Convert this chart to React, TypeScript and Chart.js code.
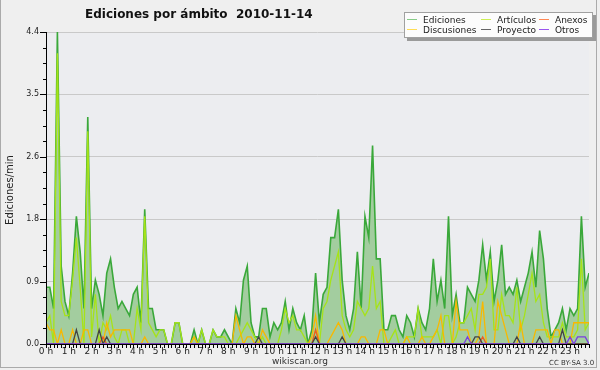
import { useEffect, useRef } from 'react';
import { Chart, registerables } from 'chart.js';

Chart.register(...registerables);

// ---- data: edits per minute, one value per 10-minute slot (0 h .. 23 h 50) ----
const ediciones = [
  0.8, 0.8, 0.5, 4.4, 1.1, 0.6, 0.4, 1.0, 1.8, 1.3,
  0.5, 3.2, 0.5, 0.9, 0.7, 0.4, 1.0, 1.2, 0.8, 0.5,
  0.6, 0.5, 0.4, 0.7, 0.8, 0.3, 1.9, 0.5, 0.5, 0.2,
  0.2, 0.2, 0, 0, 0.3, 0.3, 0, 0, 0, 0.2,
  0, 0.2, 0, 0, 0.2, 0.1, 0.1, 0.2, 0.1, 0,
  0.5, 0.3, 0.9, 1.1, 0.3, 0.1, 0.1, 0.5, 0.5, 0.1,
  0.3, 0.2, 0.3, 0.6, 0.2, 0.5, 0.3, 0.2, 0.4, 0,
  0.2, 1.0, 0.3, 0.7, 0.8, 1.5, 1.5, 1.9, 0.9, 0.4,
  0.2, 0.5, 1.3, 0.5, 1.8, 1.5, 2.8, 1.2, 1.2, 0.2,
  0.2, 0.4, 0.4, 0.2, 0.1, 0.4, 0.3, 0.1, 0.5, 0.3,
  0.2, 0.5, 1.2, 0.6, 0.9, 0.5, 1.8, 0.4, 0.7, 0.3,
  0.3, 0.8, 0.7, 0.6, 0.9, 1.4, 0.9, 1.3, 0.6, 0.9,
  1.4, 0.7, 0.8, 0.7, 0.9, 0.6, 0.8, 1.0, 1.3, 0.8,
  1.6, 1.2, 0.5, 0.1, 0.2, 0.3, 0.5, 0.2, 0.5, 0.4,
  0.5, 1.8, 0.8, 1.0,
];

const articulos = [
  0.3, 0.4, 0, 4.1, 0.6, 0.4, 0.4, 0.9, 1.5, 0.8,
  0, 3.0, 0.1, 0.7, 0, 0.3, 0.2, 0.4, 0.1, 0,
  0.2, 0.2, 0, 0, 0.5, 0.2, 1.8, 0.3, 0.2, 0.1,
  0.2, 0.2, 0, 0, 0.3, 0.3, 0, 0, 0, 0.1,
  0, 0.2, 0, 0, 0.2, 0.1, 0.1, 0.1, 0, 0,
  0, 0.1, 0.2, 0.3, 0.2, 0.1, 0, 0.1, 0, 0,
  0, 0, 0.2, 0.5, 0.3, 0.4, 0.2, 0.2, 0.1, 0,
  0, 0.2, 0, 0.5, 0.6, 0.9, 1.1, 1.3, 0.4, 0.2,
  0.1, 0.2, 0.6, 0.5, 0.4, 0.5, 1.1, 0.5, 0.6, 0,
  0, 0.1, 0.2, 0, 0, 0.1, 0.1, 0.1, 0.5, 0.1,
  0.1, 0.1, 0.1, 0.2, 0, 0.4, 0.4, 0, 0.1, 0.3,
  0.3, 0.4, 0.5, 0.2, 0.7, 0.7, 0.8, 1.2, 0.2, 0.2,
  0.7, 0.4, 0.4, 0.3, 0.8, 0.2, 0.4, 0.7, 1.0, 0.6,
  0.7, 0.3, 0.1, 0.1, 0.1, 0.1, 0.3, 0.1, 0.1, 0.1,
  0.2, 1.2, 0.2, 0.3,
];

const discusiones = [
  0.3, 0.2, 0.2, 0, 0.2, 0, 0, 0.2, 0, 0,
  0.2, 0.2, 0, 0, 0, 0, 0.3, 0.1, 0.2, 0.2,
  0.2, 0.2, 0.2, 0, 0, 0, 0.1, 0, 0, 0,
  0, 0, 0, 0, 0, 0, 0, 0, 0, 0.1,
  0, 0, 0, 0, 0, 0, 0, 0, 0, 0,
  0.4, 0.2, 0, 0.1, 0.1, 0, 0, 0.2, 0.1, 0,
  0, 0, 0, 0, 0, 0, 0, 0, 0, 0,
  0.1, 0.4, 0, 0, 0, 0.1, 0.2, 0.3, 0.2, 0,
  0, 0, 0, 0.1, 0.1, 0, 0, 0, 0.2, 0.2,
  0, 0, 0, 0, 0, 0.1, 0, 0, 0, 0.1,
  0, 0, 0.1, 0.2, 0.4, 0, 0, 0, 0.6, 0.2,
  0.2, 0.2, 0, 0, 0.1, 0.6, 0, 0, 0, 0.6,
  0.4, 0.2, 0, 0, 0, 0.3, 0, 0, 0, 0.2,
  0.2, 0.2, 0.2, 0, 0.2, 0.2, 0, 0, 0, 0.3,
  0.3, 0.3, 0.3, 0.3,
];

const anexos = [
  0, 0, 0, 0, 0, 0, 0, 0, 0, 0,
  0, 0, 0, 0, 0, 0.1, 0, 0, 0, 0,
  0, 0, 0, 0, 0, 0, 0, 0, 0, 0,
  0, 0, 0, 0, 0, 0, 0, 0, 0, 0,
  0, 0, 0, 0, 0, 0, 0, 0, 0, 0,
  0, 0, 0, 0, 0, 0, 0, 0, 0, 0,
  0, 0, 0, 0, 0, 0, 0, 0, 0, 0,
  0, 0.2, 0, 0, 0, 0, 0, 0, 0, 0,
  0, 0, 0, 0, 0, 0, 0, 0, 0, 0,
  0, 0, 0, 0, 0, 0, 0, 0, 0, 0,
  0, 0, 0, 0, 0, 0, 0, 0, 0, 0,
  0, 0, 0, 0, 0, 0.1, 0, 0, 0, 0,
  0, 0, 0, 0, 0, 0, 0, 0, 0, 0,
  0, 0, 0, 0, 0, 0, 0, 0, 0, 0,
  0, 0, 0, 0,
];

const proyecto = [
  0, 0, 0, 0, 0, 0, 0, 0, 0.2, 0,
  0, 0, 0, 0, 0.2, 0, 0.1, 0, 0, 0,
  0, 0, 0, 0, 0, 0, 0, 0, 0, 0,
  0, 0, 0, 0, 0, 0, 0, 0, 0, 0,
  0, 0, 0, 0, 0, 0, 0, 0, 0, 0,
  0, 0, 0, 0, 0, 0, 0.1, 0, 0, 0,
  0, 0, 0, 0, 0, 0, 0, 0, 0, 0,
  0, 0.1, 0, 0, 0, 0, 0, 0, 0.1, 0,
  0, 0, 0, 0, 0, 0, 0, 0, 0, 0,
  0, 0, 0, 0, 0, 0, 0, 0, 0, 0,
  0, 0, 0, 0, 0, 0, 0, 0, 0, 0,
  0, 0, 0, 0.1, 0.1, 0, 0, 0, 0, 0,
  0, 0, 0, 0, 0.1, 0, 0, 0, 0, 0,
  0.1, 0, 0, 0, 0, 0, 0.2, 0, 0, 0,
  0, 0, 0, 0,
];

const otros = [
  0, 0, 0, 0, 0, 0, 0, 0, 0, 0,
  0, 0, 0, 0, 0, 0, 0, 0, 0, 0,
  0, 0, 0, 0, 0, 0, 0, 0, 0, 0,
  0, 0, 0, 0, 0, 0, 0, 0, 0, 0,
  0, 0, 0, 0, 0, 0, 0, 0, 0, 0,
  0, 0, 0, 0, 0, 0, 0, 0, 0, 0,
  0, 0, 0, 0, 0, 0, 0, 0, 0, 0,
  0, 0, 0, 0, 0, 0, 0, 0, 0, 0,
  0, 0, 0, 0, 0, 0, 0, 0, 0, 0,
  0, 0, 0, 0, 0, 0, 0, 0, 0, 0,
  0, 0, 0, 0, 0, 0, 0, 0, 0, 0,
  0, 0.1, 0, 0, 0, 0, 0, 0, 0, 0,
  0, 0, 0, 0, 0, 0, 0, 0, 0, 0,
  0, 0, 0, 0, 0, 0, 0, 0, 0.1, 0,
  0.1, 0.1, 0.1, 0,
];

// ---- axes ----
const hours = [0, 1, 2, 3, 4, 5, 6, 7, 8, 9, 10, 11, 12, 13, 14, 15, 16, 17, 18, 19, 20, 21, 22, 23];
const hourLabels = ['0 h', '1 h', '2 h', '3 h', '4 h', '5 h', '6 h', '7 h', '8 h', '9 h', '10 h', '11 h',
  '12 h', '13 h', '14 h', '15 h', '16 h', '17 h', '18 h', '19 h', '20 h', '21 h', '22 h', '23 h'];
const slotsPerHour = 6;
const yTickValues = [0, 0.88, 1.76, 2.64, 3.52, 4.4];
const yTickLabels = ['0.0', '0.9', '1.8', '2.6', '3.5', '4.4'];
const yMinorStep = 0.22;

const titleText = 'Ediciones por ámbito  2010-11-14';
const yTitle = 'Ediciones/min';
const series = [
  { label: 'Ediciones', data: ediciones, color: '#3aa83a', legend: '#88cc88' },
  { label: 'Artículos', data: articulos, color: '#a6e318', legend: '#ccee55' },
  { label: 'Anexos', data: anexos, color: '#ee5a25', legend: '#ff8855' },
  { label: 'Discusiones', data: discusiones, color: '#f8b800', legend: '#ffdd55' },
  { label: 'Proyecto', data: proyecto, color: '#444444', legend: '#666666' },
  { label: 'Otros', data: otros, color: '#7a3ee0', legend: '#9955ee' },
];
const legendOrder = ['Ediciones', 'Artículos', 'Anexos', 'Discusiones', 'Proyecto', 'Otros'];
const drawOrder: Record<string, number> = { Ediciones: 6, Artículos: 5, Discusiones: 4, Anexos: 3, Proyecto: 2, Otros: 1 };

const FONT = 'DejaVu Sans';

const decor = {
  id: 'decor',
  beforeDraw(chart: any) {
    const { ctx, chartArea: a } = chart;
    ctx.save();
    ctx.fillStyle = '#efefef';
    ctx.fillRect(0, 0, chart.width, chart.height);
    ctx.fillStyle = '#ecedf0';
    ctx.fillRect(a.left, a.top, a.right - a.left, a.bottom - a.top);
    ctx.restore();
  },
  afterDraw(chart: any) {
    const { ctx, chartArea: a, scales } = chart;
    const xs = scales.x;
    const ys = scales.y;
    const L = Math.round(a.left);
    const R = Math.round(a.right);
    const T = Math.round(a.top);
    const B = Math.round(a.bottom);
    ctx.save();
    ctx.strokeStyle = '#000';
    ctx.lineWidth = 1;
    ctx.beginPath();
    ctx.moveTo(L + 0.5, T);
    ctx.lineTo(L + 0.5, B + 1);
    ctx.moveTo(L, B + 0.5);
    ctx.lineTo(R + 1, B + 0.5);
    // x ticks every slot
    const nSlots = hours.length * slotsPerHour;
    for (let i = 0; i < nSlots; i++) {
      const px = Math.round(xs.getPixelForValue(i)) + 0.5;
      ctx.moveTo(px, B + 1);
      ctx.lineTo(px, B + 4);
    }
    // y ticks
    const nMinor = Math.round(ys.max / yMinorStep);
    for (let k = 0; k <= nMinor; k++) {
      const py = Math.round(ys.getPixelForValue(k * yMinorStep)) + 0.5;
      const len = k % 4 === 0 ? 6 : 3;
      ctx.moveTo(L - len, py);
      ctx.lineTo(L, py);
    }
    ctx.stroke();

    // title
    ctx.fillStyle = '#111';
    ctx.font = `bold 12px "${FONT}"`;
    ctx.textAlign = 'left';
    ctx.textBaseline = 'alphabetic';
    ctx.fillText(titleText, 85, 18);

    // y title
    ctx.save();
    ctx.translate(13, 190);
    ctx.rotate(-Math.PI / 2);
    ctx.font = `10px "${FONT}"`;
    ctx.textAlign = 'center';
    ctx.fillStyle = '#222';
    ctx.fillText(yTitle, 0, 0);
    ctx.restore();

    // legend box
    const bx = 404, by = 12, bw = 189, bh = 26;
    ctx.fillStyle = '#9a9a9a';
    ctx.fillRect(bx + 3, by + 3, bw, bh);
    ctx.fillStyle = '#fcfcfc';
    ctx.fillRect(bx, by, bw, bh);
    ctx.strokeStyle = '#a0a0a0';
    ctx.strokeRect(bx + 0.5, by + 0.5, bw - 1, bh - 1);
    const cols = [407, 481, 539];
    const rows = [19, 29];
    ctx.font = `9px "${FONT}"`;
    ctx.textAlign = 'left';
    ctx.textBaseline = 'alphabetic';
    legendOrder.forEach((name, idx) => {
      const s = series.find((q) => q.label === name)!;
      const cx = cols[idx % 3];
      const cy = rows[Math.floor(idx / 3)];
      ctx.strokeStyle = s.legend;
      ctx.beginPath();
      ctx.moveTo(cx, cy + 0.5);
      ctx.lineTo(cx + 10, cy + 0.5);
      ctx.stroke();
      ctx.fillStyle = '#222';
      ctx.fillText(name, cx + 16, cy + 3.5);
    });

    // footer
    ctx.fillStyle = '#333';
    ctx.font = `9px "${FONT}"`;
    ctx.textAlign = 'center';
    ctx.fillText('wikiscan.org', 300, 364);
    ctx.font = `7px "${FONT}"`;
    ctx.textAlign = 'left';
    ctx.fillText('CC BY-SA 3.0', 549, 365);

    // frame
    ctx.strokeStyle = '#aaaaaa';
    ctx.beginPath();
    ctx.moveTo(0.5, 0);
    ctx.lineTo(0.5, 368);
    ctx.moveTo(596.5, 0);
    ctx.lineTo(596.5, 368);
    ctx.moveTo(0, 367.5);
    ctx.lineTo(597, 367.5);
    ctx.stroke();
    ctx.restore();
  },
};

export default function App() {
  const ref = useRef<HTMLCanvasElement>(null);
  useEffect(() => {
    const canvas = ref.current;
    if (!canvas) return;
    const datasets = series.map((s) => ({
      label: s.label,
      data: s.data.map((v, i) => ({ x: i, y: v })),
      borderColor: s.color,
      backgroundColor: s.label === 'Ediciones' ? '#a3cd9f' : s.color,
      borderWidth: s.label === 'Ediciones' ? 1.6 : 1.3,
      fill: s.label === 'Ediciones' ? 'origin' : false,
      pointRadius: 0,
      tension: 0,
      order: drawOrder[s.label],
    }));
    const chart = new Chart(canvas, {
      type: 'line',
      data: { datasets },
      options: {
        responsive: false,
        devicePixelRatio: 1,
        animation: false,
        events: [],
        layout: { padding: { left: 0, right: 11, top: 32, bottom: 0 } },
        plugins: {
          legend: { display: false },
          tooltip: { enabled: false },
          title: { display: false },
        },
        scales: {
          x: {
            type: 'linear',
            min: 0,
            max: hours.length * slotsPerHour - 1,
            afterBuildTicks: (s: any) => {
              s.ticks = hours.map((h) => ({ value: h * slotsPerHour }));
            },
            afterFit: (s: any) => {
              s.height = 26;
            },
            ticks: {
              autoSkip: false,
              maxRotation: 0,
              minRotation: 0,
              padding: 2,
              color: '#222',
              font: { family: FONT, size: 9 },
              callback: (_v: any, idx: number) => hourLabels[idx],
            },
            grid: { display: false, drawTicks: false, tickLength: 0 },
            border: { display: false },
          },
          y: {
            min: 0,
            max: 4.4,
            afterBuildTicks: (s: any) => {
              s.ticks = yTickValues.map((v) => ({ value: v }));
            },
            afterFit: (s: any) => {
              s.width = 46;
            },
            ticks: {
              padding: 7,
              color: '#222',
              font: { family: FONT, size: 8 },
              callback: (_v: any, idx: number) => yTickLabels[idx],
            },
            grid: { color: '#c9c9c9', drawTicks: false, tickLength: 0, lineWidth: 1 },
            border: { display: false },
          },
        },
      },
      plugins: [decor],
    } as any);
    return () => chart.destroy();
  }, []);
  return (
    <div style={{ position: 'fixed', left: 0, top: 0, width: 600, height: 370 }}>
      <canvas ref={ref} width={600} height={370} style={{ display: 'block', width: 600, height: 370 }} />
    </div>
  );
}
